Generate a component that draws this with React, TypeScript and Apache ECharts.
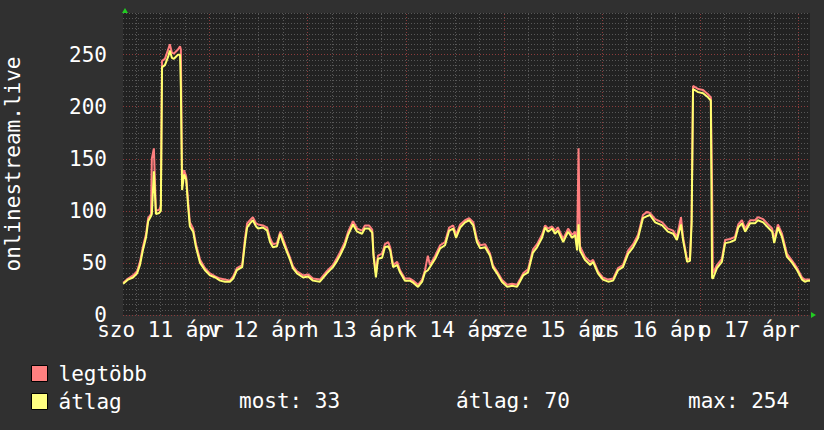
import React, { useEffect, useRef } from 'react';
import * as echarts from 'echarts';

// hours since Sat 11 Apr 00:00
const hours = [
  2.9, 4.1, 5.3, 6.3, 7.0, 7.7, 8.5, 9.0, 9.7, 9.9, 10.4, 10.9, 11.7, 12.1, 12.4, 13.1, 13.9, 14.3, 14.8, 15.3,
  15.8, 16.3, 16.8, 17.0, 17.3, 17.8, 18.3, 18.8, 19.2, 20.0, 20.7, 21.7, 22.9, 24.1, 25.4, 26.6, 27.8, 29.0, 29.8, 30.7,
  32.0, 32.7, 33.2, 33.9, 34.6, 35.4, 35.9, 37.1, 38.1, 38.8, 39.5, 40.5, 41.3, 42.0, 43.0, 43.7, 44.4, 45.4, 46.9, 48.1,
  49.3, 51.0, 52.7, 54.2, 55.2, 55.9, 57.1, 57.9, 59.1, 60.1, 61.3, 62.0, 63.0, 63.8, 64.1, 64.7, 65.2, 66.2, 66.9, 67.7,
  68.2, 68.9, 69.9, 70.6, 71.8, 73.0, 73.8, 75.0, 76.0, 76.7, 77.4, 77.9, 79.2, 80.4, 81.6, 82.6, 83.6, 84.3, 85.3, 86.5,
  87.5, 88.5, 89.4, 90.2, 91.4, 92.6, 93.3, 94.3, 95.5, 96.8, 98.0, 99.2, 99.9, 100.7, 101.9, 103.1, 104.1, 105.3, 106.1, 106.8,
  107.8, 108.5, 109.2, 110.5, 111.7, 112.7, 113.4, 113.9, 114.25, 114.6, 115.8, 117.1, 117.8, 119.0, 120.2, 121.5, 122.7, 123.9, 125.1, 126.4,
  127.6, 128.8, 130.0, 131.0, 131.7, 133.0, 134.7, 136.1, 137.4, 138.3, 139.3, 139.8, 140.8, 141.5, 141.9, 142.25, 143.5, 144.7, 145.9, 146.6,
  146.9, 147.1, 148.1, 149.3, 150.1, 151.3, 152.5, 153.3, 154.2, 155.0, 156.2, 157.4, 158.1, 159.4, 160.6, 161.6, 162.1, 163.0, 164.0, 165.2,
  166.5, 167.7, 168.9, 169.6, 170.4, 170.85,
];

// átlag (average)
const avgVals = [
  30, 34, 36, 40, 48, 62, 75, 90, 95, 97, 138, 97, 98, 100, 238, 240, 248, 254, 247, 246,
  248, 250, 250, 218, 120, 135, 130, 103, 85, 80, 65, 50, 43, 38, 36, 33, 32, 32, 35, 43,
  46, 70, 84, 88, 91, 85, 83, 84, 81, 70, 65, 66, 78, 70, 60, 53, 45, 40, 36, 37,
  33, 32, 40, 46, 52, 57, 67, 77, 87, 80, 78, 83, 83, 79, 57, 36, 54, 55, 65, 66,
  62, 46, 48, 41, 33, 33, 31, 27, 32, 41, 43, 46, 54, 64, 67, 81, 83, 74, 84, 89,
  91, 86, 70, 64, 65, 57, 46, 40, 32, 27, 28, 27, 32, 38, 41, 60, 65, 74, 84, 80,
  83, 78, 81, 70, 80, 74, 77, 62, 87, 62, 53, 48, 51, 40, 34, 32, 33, 43, 46, 59,
  65, 74, 93, 95, 96, 89, 86, 80, 78, 72, 87, 72, 51, 52, 88, 217, 214, 213, 209, 206,
  36, 35, 45, 51, 69, 70, 72, 84, 88, 80, 88, 88, 91, 89, 84, 80, 69, 84, 75, 56,
  50, 43, 34, 32, 33, 33,
];

// legtöbb (maximum)
const maxVals = [
  31, 35, 38, 42, 51, 65, 78, 93, 97, 150, 160, 100, 101, 105, 244, 246, 255, 260, 252, 251,
  253, 255, 258, 255, 130, 139, 133, 108, 89, 83, 68, 53, 45, 40, 37, 35, 34, 33, 37, 45,
  48, 74, 88, 91, 94, 88, 87, 86, 84, 74, 68, 69, 80, 73, 62, 55, 47, 42, 38, 39,
  35, 34, 42, 48, 55, 60, 70, 80, 90, 83, 81, 86, 86, 82, 60, 40, 57, 59, 68, 70,
  65, 48, 51, 43, 35, 35, 33, 29, 34, 43, 57, 48, 57, 67, 70, 84, 86, 77, 87, 91,
  93, 89, 73, 67, 68, 59, 48, 42, 34, 29, 30, 29, 34, 40, 44, 63, 68, 77, 86, 83,
  85, 81, 84, 73, 83, 77, 80, 66, 160, 66, 56, 51, 53, 42, 36, 34, 35, 45, 48, 62,
  68, 77, 96, 99, 98, 92, 89, 83, 81, 75, 94, 75, 53, 55, 92, 220, 217, 216, 212, 209,
  125, 40, 48, 54, 72, 73, 75, 87, 91, 83, 91, 91, 94, 92, 87, 83, 72, 87, 78, 59,
  52, 45, 36, 34, 34, 34,
];

const dayLabelHours = [12, 36, 60, 84, 108, 132, 156];
const dayLabels = ['szo 11 ápr', 'v 12 ápr', 'h 13 ápr', 'k 14 ápr', 'sze 15 ápr', 'cs 16 ápr', 'p 17 ápr'];
const seriesNames = ['legtöbb', 'átlag'];
const statsLabels = ['most: 33', 'átlag: 70', 'max: 254'];
const yTitle = 'onlinestream.live';

const X_MIN = 2.85;
const X_MAX = 170.85;
const FONT = 'DejaVu Sans Mono';
const MAJOR = '#8c3c3c';
const MINOR = '#585858';

export default function App() {
  const ref = useRef<HTMLDivElement>(null);

  useEffect(() => {
    if (!ref.current) return;
    const chart = echarts.init(ref.current, null, { renderer: 'svg' });

    const vLines: any[] = [];
    for (let h = Math.ceil(X_MIN / 6) * 6; h <= X_MAX; h += 6) {
      vLines.push({
        xAxis: h,
        lineStyle: { color: h % 24 === 0 ? MAJOR : MINOR, type: [1, 2], width: 1 },
      });
    }

    const yColors = [MAJOR, MINOR, MINOR, MINOR, MINOR, MINOR, MINOR, MINOR, MINOR, MINOR];

    // two label axes so that neighbouring (overlapping) day labels are all kept
    const makeXAxis = (parity: number) => {
      const vals = dayLabelHours.filter((_, i) => i % 2 === parity);
      return {
        type: 'value',
        min: X_MIN,
        max: X_MAX,
        position: 'bottom',
        offset: 0,
        axisLine: { show: false },
        axisTick: { show: false },
        splitLine: { show: false },
        axisLabel: {
          customValues: vals,
          formatter: (v: number) => {
            const i = dayLabelHours.indexOf(Math.round(v));
            return i >= 0 ? dayLabels[i] : '';
          },
          color: '#ffffff',
          fontSize: 21,
          fontFamily: FONT,
          margin: 4,
          hideOverlap: false,
          showMinLabel: true,
          showMaxLabel: true,
        },
      };
    };

    const option: any = {
      animation: false,
      backgroundColor: '#303030',
      textStyle: { fontFamily: FONT },
      grid: {
        left: 123,
        top: 13,
        width: 687,
        height: 302,
        show: true,
        backgroundColor: '#222222',
        borderWidth: 0,
        containLabel: false,
        outerBoundsMode: 'none',
      },
      legend: {
        orient: 'vertical',
        left: 31,
        top: 363,
        padding: 0,
        itemWidth: 16,
        itemHeight: 16,
        itemGap: 7,
        icon: 'rect',
        itemStyle: { borderColor: '#000', borderWidth: 1 },
        textStyle: { color: '#ffffff', fontSize: 21, fontFamily: FONT, padding: [0, 0, 0, 6] },
        data: seriesNames,
        selectedMode: false,
      },
      xAxis: [makeXAxis(0), makeXAxis(1)],
      yAxis: {
        type: 'value',
        min: 0,
        max: 290,
        interval: 5,
        name: yTitle,
        nameLocation: 'middle',
        nameGap: 100,
        nameRotate: 90,
        nameTextStyle: { color: '#ffffff', fontSize: 21, fontFamily: FONT },
        axisLine: { show: false },
        axisTick: { show: false },
        axisLabel: {
          formatter: (v: number) => (v % 50 === 0 ? String(v) : ''),
          color: '#ffffff',
          fontSize: 21,
          fontFamily: FONT,
          margin: 16,
          showMinLabel: true,
        },
        splitLine: { show: true, lineStyle: { color: yColors, type: [1, 2], width: 1 } },
      },
      series: [
        {
          name: seriesNames[0],
          type: 'line',
          xAxisIndex: 0,
          data: hours.map((h, i) => [h, maxVals[i]]),
          showSymbol: false,
          symbol: 'none',
          color: '#ff8080',
          lineStyle: { color: '#ff7f7f', width: 2 },
          z: 2,
          markLine: {
            silent: true,
            symbol: 'none',
            label: { show: false },
            z: 1,
            data: vLines,
            animation: false,
          },
        },
        {
          name: seriesNames[1],
          type: 'line',
          xAxisIndex: 0,
          data: hours.map((h, i) => [h, avgVals[i]]),
          showSymbol: false,
          symbol: 'none',
          color: '#ffff80',
          lineStyle: { color: '#ffff70', width: 2 },
          z: 3,
        },
      ],
      graphic: [
        { type: 'polygon', shape: { points: [[122, 13], [128, 13], [125, 8]] }, style: { fill: '#22cc22' } },
        { type: 'polygon', shape: { points: [[811, 312], [811, 318], [816, 315]] }, style: { fill: '#22cc22' } },
        {
          type: 'text', left: 239, top: 390,
          style: { text: statsLabels[0], fill: '#ffffff', font: `21px "${FONT}"` },
        },
        {
          type: 'text', left: 456, top: 390,
          style: { text: statsLabels[1], fill: '#ffffff', font: `21px "${FONT}"` },
        },
        {
          type: 'text', left: 688, top: 390,
          style: { text: statsLabels[2], fill: '#ffffff', font: `21px "${FONT}"` },
        },
      ],
    };

    chart.setOption(option);
    return () => chart.dispose();
  }, []);

  return <div ref={ref} style={{ width: 824, height: 430, position: 'absolute', left: 0, top: 0 }} />;
}
